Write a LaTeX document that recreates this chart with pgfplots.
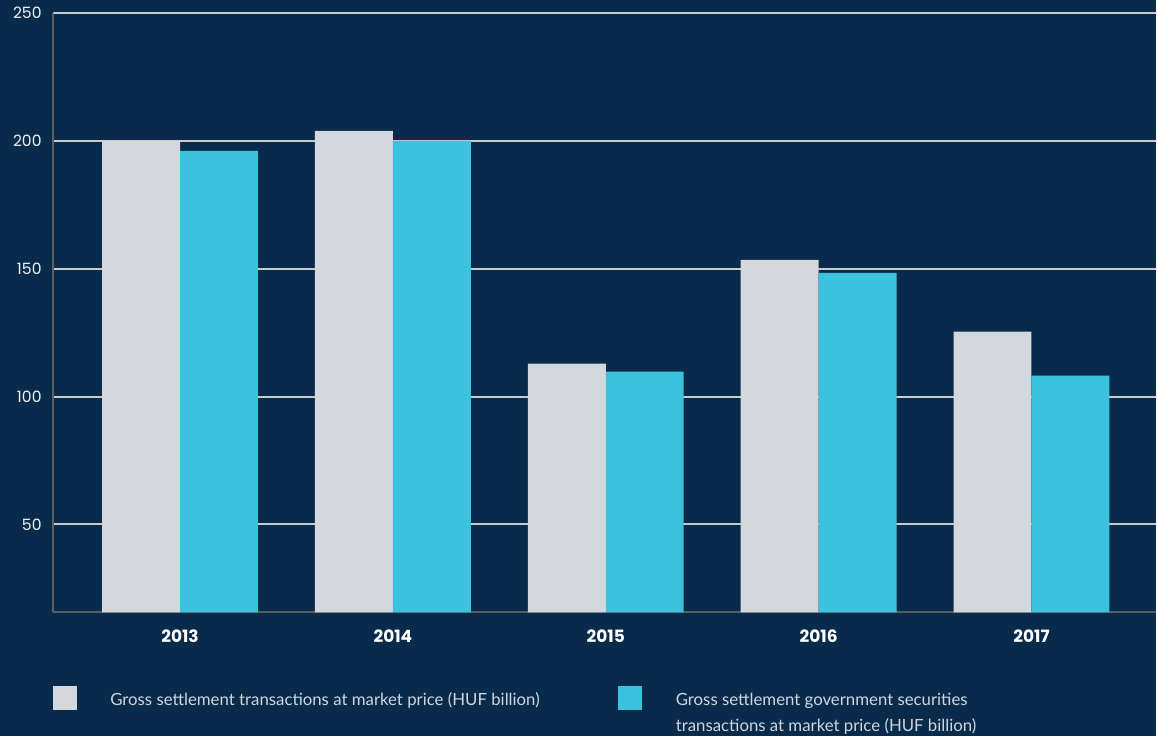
\documentclass[border=0pt]{standalone}
\usepackage{pgfplots}
\pgfplotsset{compat=1.18}
\usepackage{fontspec}
\setmainfont{Lato}
\newfontfamily\pop{Poppins}
\usetikzlibrary{backgrounds}
\definecolor{bg}{HTML}{082A4B}
\definecolor{barA}{HTML}{D4D7DC}
\definecolor{barB}{HTML}{3BC2DC}
\definecolor{gridc}{HTML}{C9CBCE}
\definecolor{axc}{HTML}{5A5E63}
\definecolor{txt}{HTML}{EEF0F3}
\definecolor{legtxt}{HTML}{D0D6DE}
\begin{document}
\begin{tikzpicture}
\begin{axis}[
  scale only axis, width=552pt, height=300pt,
  at={(0,0)}, anchor=south west,
  xmin=-0.597, xmax=4.585, ymin=15.6, ymax=250,
  ybar=0pt, bar width=39pt,
  xtick={0,1,2,3,4}, xticklabels={2013,2014,2015,2016,2017},
  ytick={50,100,150,200,250},
  axis x line*=bottom, axis y line*=left,
  axis line style={axc, line width=1pt, -},
  major tick length=0pt,
  ymajorgrids, grid style={gridc, line width=1pt},
  yticklabel style={anchor=east, inner sep=0pt, xshift=-5.5pt, text=txt, font=\pop\fontsize{7.8}{10}\selectfont},
  xticklabel style={anchor=base, inner sep=0pt, yshift=-15pt, text=white, font=\pop\bfseries\fontsize{8.5}{10}\selectfont},
  /pgf/number format/assume math mode=true,
]
\addplot[fill=barA, draw=none] coordinates {(0,200) (1,203.9) (2,112.9) (3,153.5) (4,125.4)};
\addplot[fill=barB, draw=none] coordinates {(0,196.1) (1,200) (2,109.8) (3,148.4) (4,108.2)};
\end{axis}
\begin{scope}[on background layer]
\fill[bg] (-26.5pt,-62pt) rectangle (552pt,306.5pt);
\end{scope}
\fill[barA] (0,-37pt) rectangle (12pt,-49pt);
\fill[barB] (283pt,-37pt) rectangle (295pt,-49pt);
\node[anchor=north west, inner sep=0pt, text=legtxt, font=\fontsize{8.4}{13}\selectfont] at (28.5pt,-40pt) {Gross settlement transactions at market price (HUF billion)};
\node[anchor=north west, inner sep=0pt, align=left, text=legtxt, font=\fontsize{8.4}{13}\selectfont] at (311.5pt,-40pt) {Gross settlement government securities\\transactions at market price (HUF billion)};
\end{tikzpicture}
\end{document}
